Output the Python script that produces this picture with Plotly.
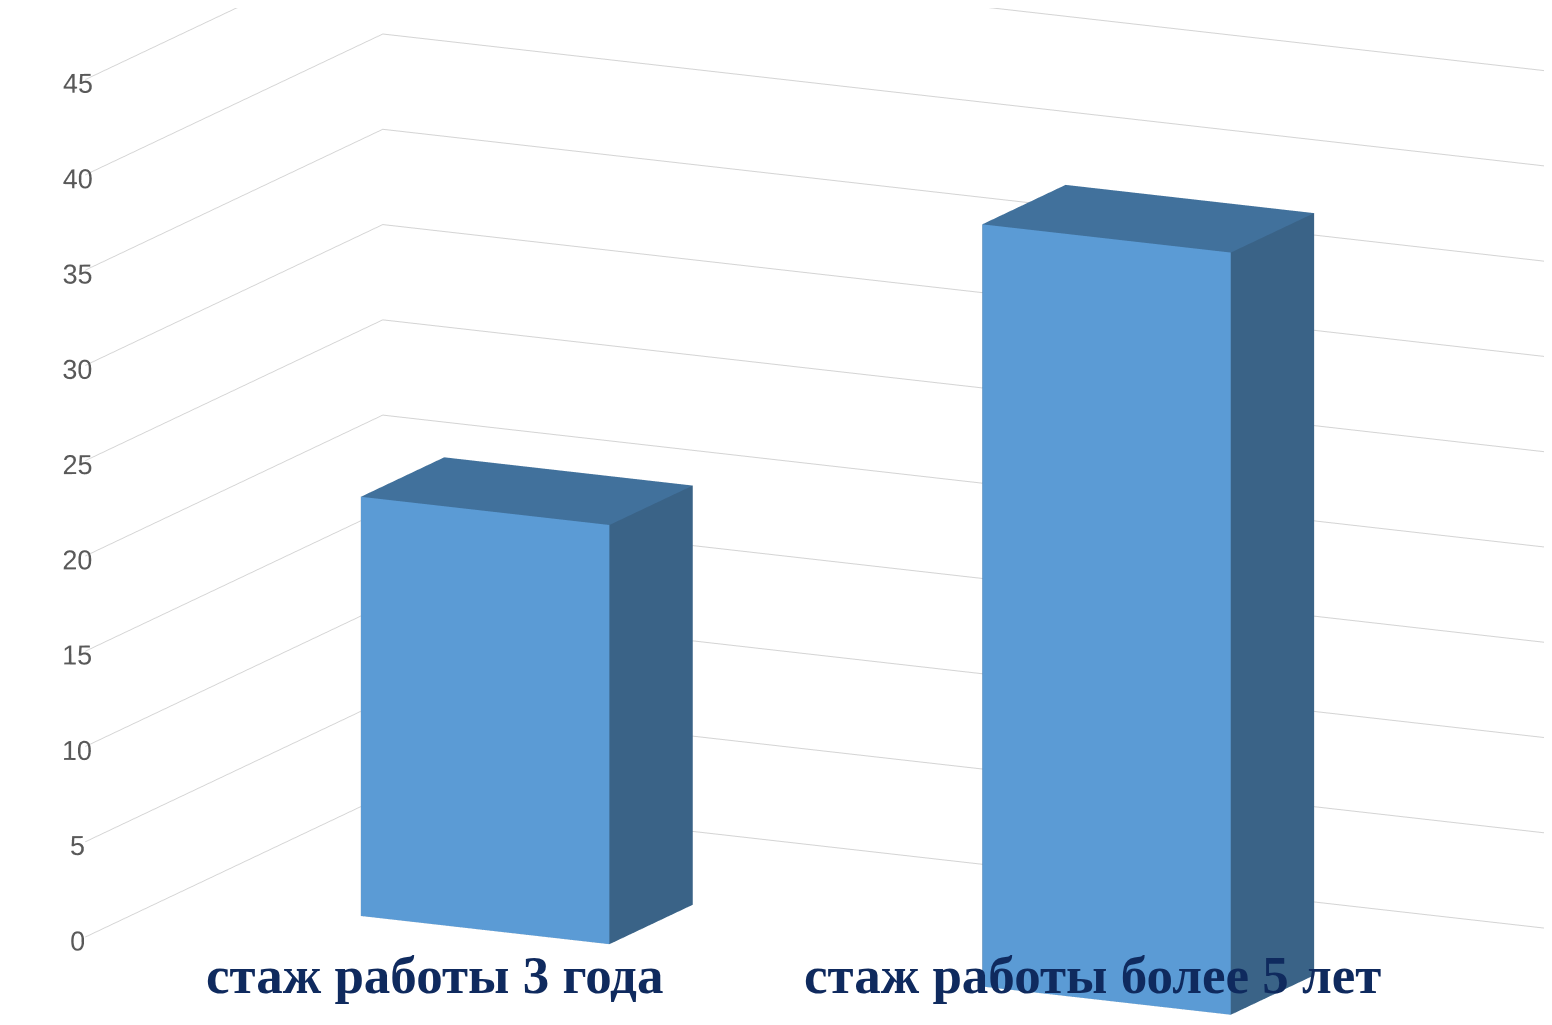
import plotly.graph_objects as go
import numpy as np

categories = ["стаж работы 3 года", "стаж работы более 5 лет"]
values = [22, 40]
z_ticks = [0, 5, 10, 15, 20, 25, 30, 35, 40, 45]

FRONT = "#5B9BD5"
TOP = "#41719C"
SIDE = "#3A6387"

bar_w = 0.40
y_front, y_back = 0.30, 0.58

xs, ys, zs, I, J, K, fc = [], [], [], [], [], [], []
for ci, v in enumerate(values):
    x0, x1 = ci - bar_w / 2, ci + bar_w / 2
    base = len(xs)
    corners = [(x0, y_front, 0), (x1, y_front, 0), (x1, y_back, 0), (x0, y_back, 0),
               (x0, y_front, v), (x1, y_front, v), (x1, y_back, v), (x0, y_back, v)]
    for c in corners:
        xs.append(c[0]); ys.append(c[1]); zs.append(c[2])
    faces = [
        ((0, 1, 5), FRONT), ((0, 5, 4), FRONT),
        ((4, 5, 6), TOP), ((4, 6, 7), TOP),
        ((1, 2, 6), SIDE), ((1, 6, 5), SIDE),
        ((0, 3, 7), SIDE), ((0, 7, 4), SIDE),
        ((3, 2, 6), SIDE), ((3, 6, 7), SIDE),
        ((0, 1, 2), SIDE), ((0, 2, 3), SIDE),
    ]
    for (a, b, c), col in faces:
        I.append(base + a); J.append(base + b); K.append(base + c); fc.append(col)

fig = go.Figure()
fig.add_trace(go.Mesh3d(
    x=xs, y=ys, z=zs, i=I, j=J, k=K, facecolor=fc, flatshading=True,
    lighting=dict(ambient=1, diffuse=0, specular=0, fresnel=0, roughness=1),
    hoverinfo="skip", showscale=False,
))

axis_common = dict(showbackground=False, showspikes=False, showline=False,
                   zeroline=False, title=dict(text=""))
a = np.radians(22)
el = np.radians(12.7)
dist = 2.0
eye = dict(x=dist * np.cos(el) * np.sin(a), y=-dist * np.cos(el) * np.cos(a), z=dist * np.sin(el))

fig.update_layout(
    width=1552, height=1025,
    margin=dict(l=0, r=0, t=0, b=0),
    paper_bgcolor="white",
    showlegend=False,
    scene=dict(
        domain=dict(x=[0, 1], y=[0, 1]),
        xaxis=dict(range=[-0.5, 1.5], showgrid=False, showticklabels=False, ticks="", **axis_common),
        yaxis=dict(range=[0, 1], showgrid=False, showticklabels=False, ticks="", **axis_common),
        zaxis=dict(range=[0, 45], tickvals=z_ticks, showgrid=True, gridcolor="#D4D4D4", gridwidth=2,
                   showticklabels=True, ticks="", tickangle=0,
                   tickfont=dict(family="Liberation Sans", size=18, color="#595959"), **axis_common),
        aspectmode="manual",
        aspectratio=dict(x=2.7, y=1.32, z=1.72),
        camera=dict(eye=eye, center=dict(x=-0.134, y=-0.043, z=-0.029), up=dict(x=0, y=0, z=1),
                    projection=dict(type="orthographic")),
    ),
    annotations=[
        dict(x=xp, y=0.057, xref="paper", yref="paper", xanchor="center", yanchor="middle",
             text="<b>%s</b>" % cat, showarrow=False,
             font=dict(family="Liberation Serif", size=53, color="#0F2A5E"))
        for xp, cat in zip([0.275, 0.699], categories)
    ],
)

fig.write_html("out.html", config=dict(displayModeBar=False))
